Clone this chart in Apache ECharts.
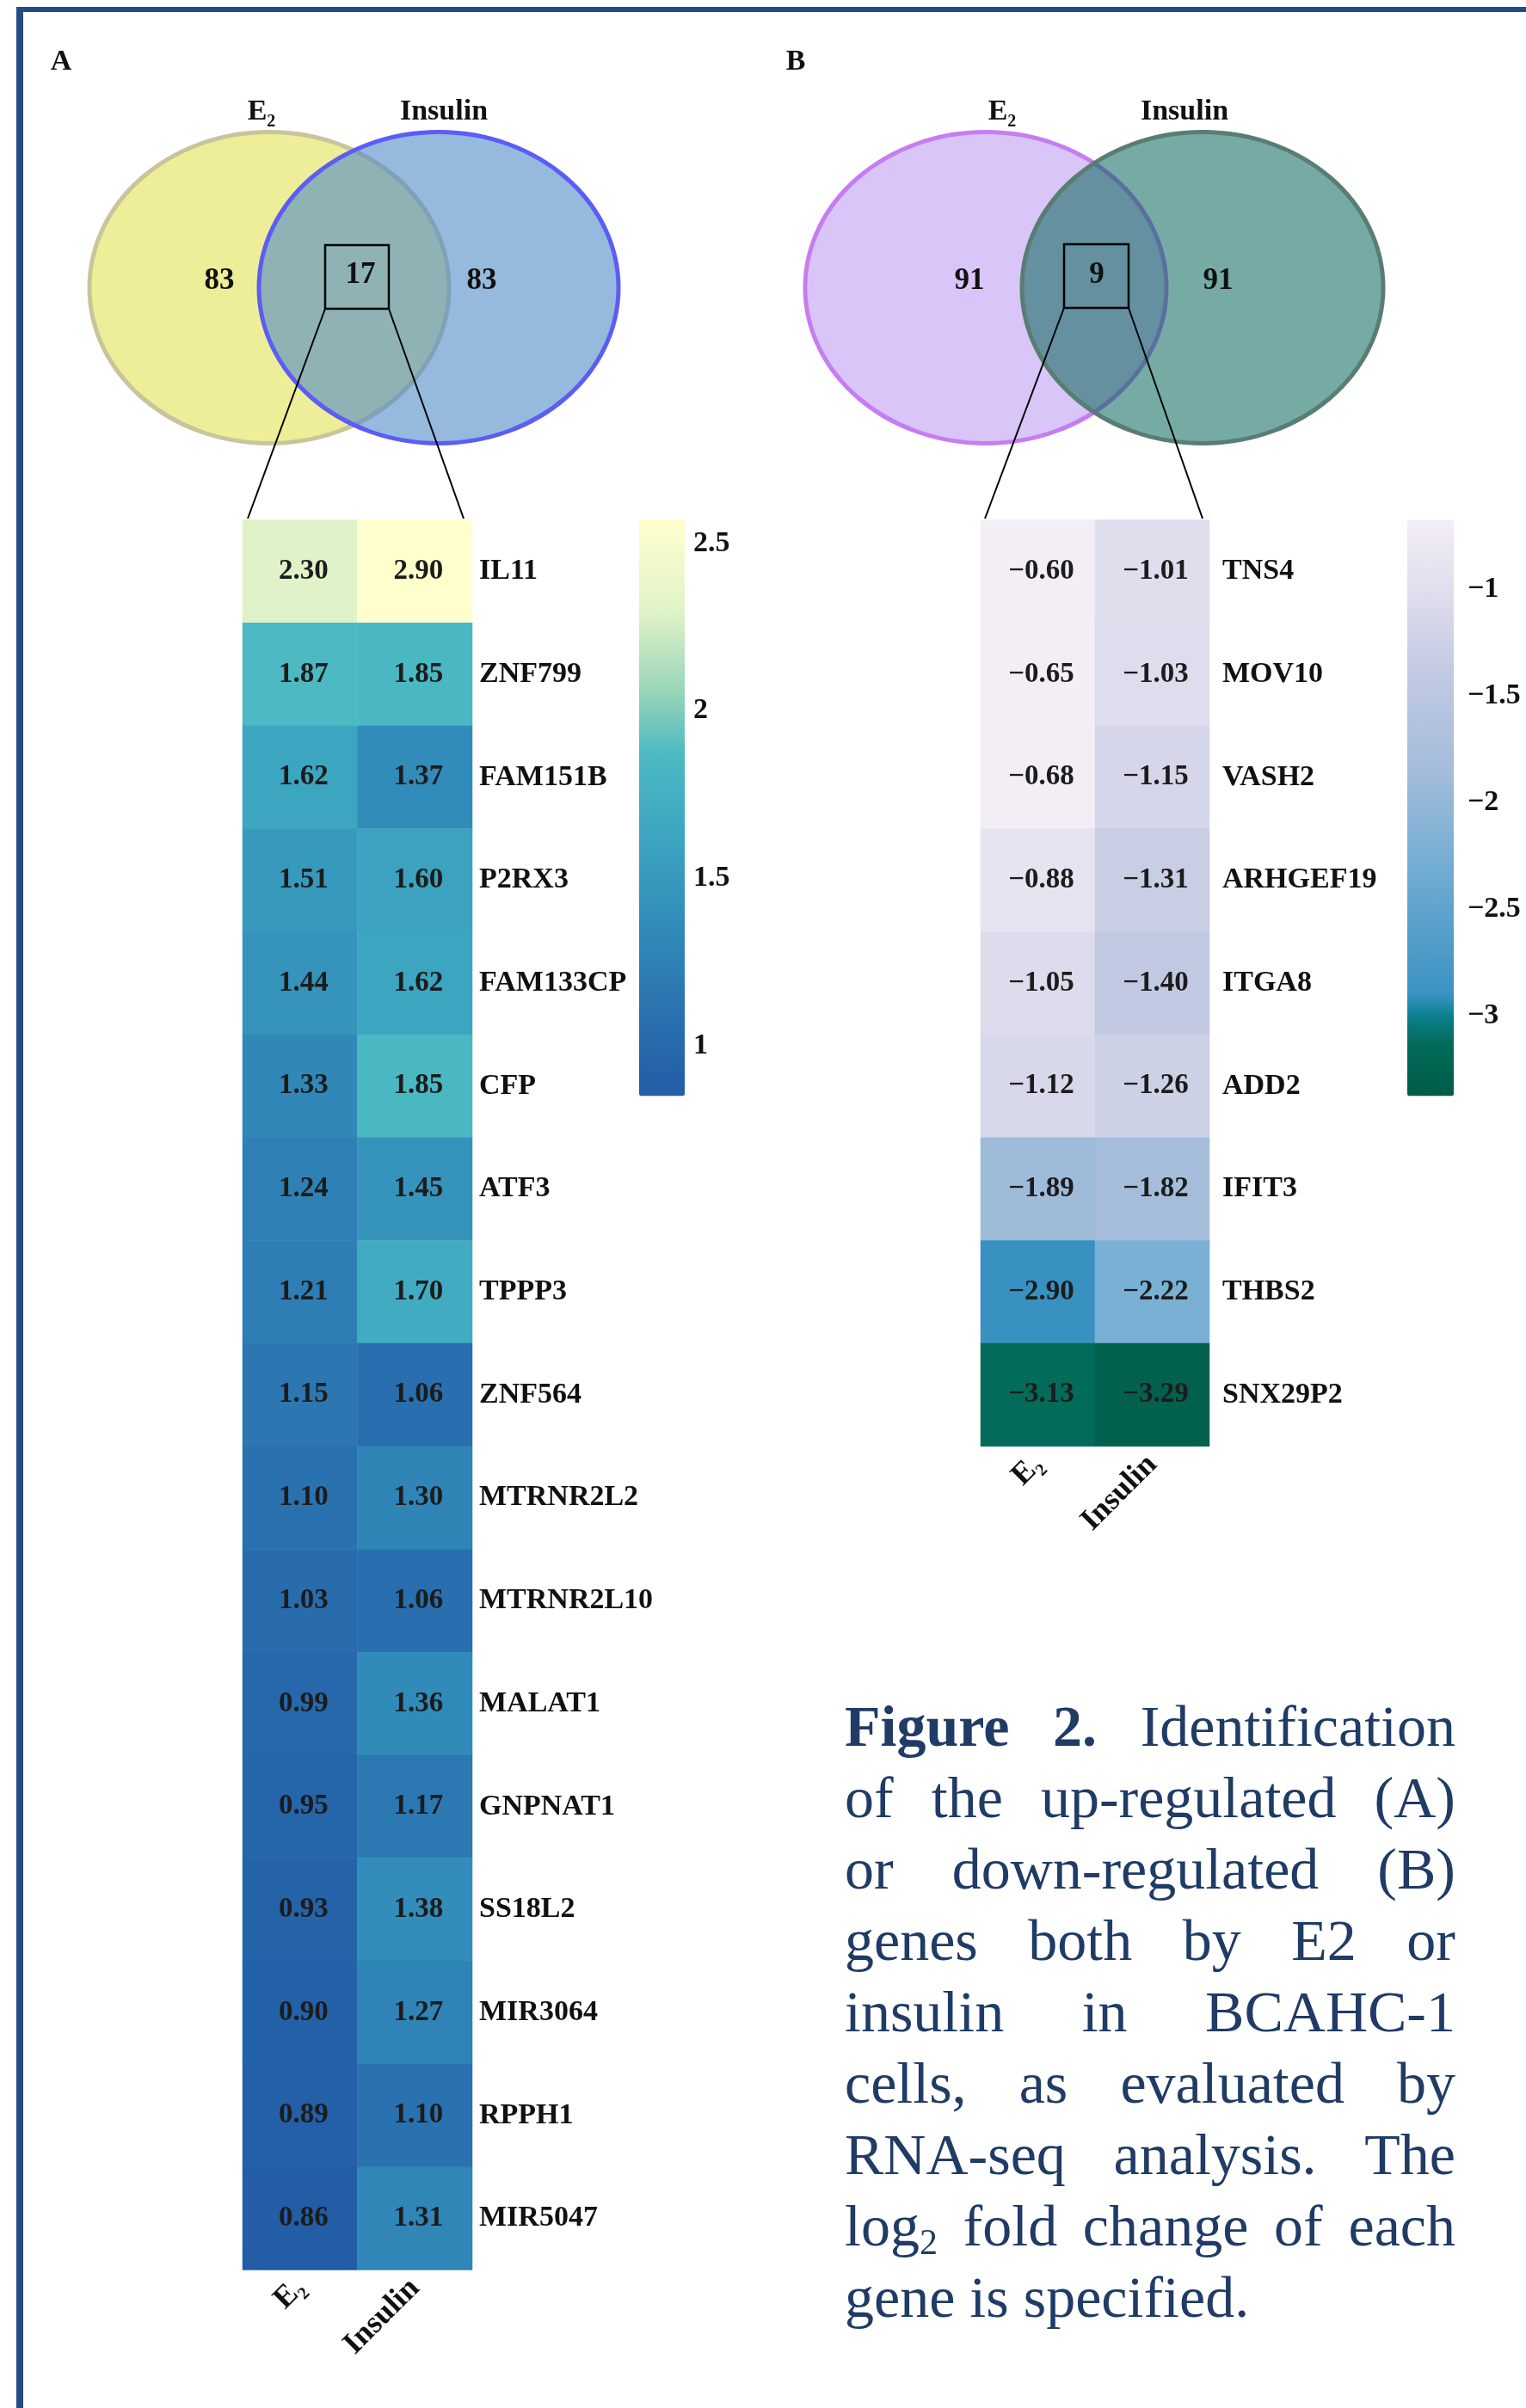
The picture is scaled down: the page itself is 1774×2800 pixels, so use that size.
<!DOCTYPE html>
<html>
<head>
<meta charset="utf-8">
<title>Figure 2 – E2 / insulin regulated genes</title>
<script src="https://cdn.jsdelivr.net/npm/echarts@6/dist/echarts.min.js"></script>
<style>
  html, body { margin: 0; padding: 0; background: #ffffff; }
  #chart { width: 1774px; height: 2800px; }
</style>
</head>
<body>
<div id="chart"></div>
<script>
// ---------------- data ----------------
const conditions = ['E2', 'Insulin'];

const upGenes = ['IL11', 'ZNF799', 'FAM151B', 'P2RX3', 'FAM133CP', 'CFP', 'ATF3', 'TPPP3', 'ZNF564',
  'MTRNR2L2', 'MTRNR2L10', 'MALAT1', 'GNPNAT1', 'SS18L2', 'MIR3064', 'RPPH1', 'MIR5047'];
const upE2 = [2.30, 1.87, 1.62, 1.51, 1.44, 1.33, 1.24, 1.21, 1.15, 1.10, 1.03, 0.99, 0.95, 0.93, 0.90, 0.89, 0.86];
const upInsulin = [2.90, 1.85, 1.37, 1.60, 1.62, 1.85, 1.45, 1.70, 1.06, 1.30, 1.06, 1.36, 1.17, 1.38, 1.27, 1.10, 1.31];

const downGenes = ['TNS4', 'MOV10', 'VASH2', 'ARHGEF19', 'ITGA8', 'ADD2', 'IFIT3', 'THBS2', 'SNX29P2'];
const downE2 = [-0.60, -0.65, -0.68, -0.88, -1.05, -1.12, -1.89, -2.90, -3.13];
const downInsulin = [-1.01, -1.03, -1.15, -1.31, -1.40, -1.26, -1.82, -2.22, -3.29];

// Venn counts: [E2 only, shared, insulin only]
const vennUp = [83, 17, 83];
const vennDown = [91, 9, 91];

// colour-bar tick labels
const upTicks = [1, 1.5, 2, 2.5];
const downTicks = [-3, -2.5, -2, -1.5, -1];

const captionLines = [
  '**Figure** **2.** Identification',
  'of the up-regulated (A)',
  'or down-regulated (B)',
  'genes both by E2 or',
  'insulin in BCAHC-1',
  'cells, as evaluated by',
  'RNA-seq analysis. The',
  'log_2 fold change of each',
  'gene is specified.'
];

// ---------------- styling / layout ----------------
const SERIF = '"Liberation Serif", "Times New Roman", Times, serif';
const INK = '#111111';
const NAVY = '#1f3b66';
const ROW_H = 119.7;

// colour ramps (value, colour) for the two fold-change scales
const upScale = { min: 0.85, max: 2.57, over: '#ffffcd', stops: [
  [0.85, '#225ca6'], [1.10, '#2a72af'], [1.37, '#328cba'], [1.62, '#3ca5c0'],
  [1.87, '#4bb9c3'], [2.05, '#96d4b8'], [2.30, '#e1f3c8'], [2.57, '#ffffcd']] };
const downScale = { min: -3.375, max: -0.675, over: '#f3eef6', stops: [
  [-3.375, '#015c49'], [-3.13, '#026a57'], [-3.0, '#0a808e'], [-2.90, '#3a92c3'], [-2.22, '#7ab0d4'],
  [-1.89, '#a0bbda'], [-1.40, '#c1c9e2'], [-1.05, '#dddcec'], [-0.675, '#f3eef6']] };

function hexToRgb(h) { return [1, 3, 5].map(i => parseInt(h.substr(i, 2), 16)); }
function rampFromStops(scale, n) {
  const out = [];
  for (let k = 0; k < n; k++) {
    const v = scale.min + (scale.max - scale.min) * k / (n - 1);
    const s = scale.stops;
    let j = 0;
    while (j < s.length - 2 && v > s[j + 1][0]) j++;
    const a = hexToRgb(s[j][1]), b = hexToRgb(s[j + 1][1]);
    let t = (v - s[j][0]) / (s[j + 1][0] - s[j][0]);
    t = Math.max(0, Math.min(1, t));
    const c = a.map((x, i) => Math.round(x + (b[i] - x) * t));
    out.push('rgb(' + c.join(',') + ')');
  }
  return out;
}

const fmtNum = v => v.toFixed(2).replace('-', '\u2212');
const fmtTick = v => String(v).replace('-', '\u2212');

function heatData(e2, ins) {
  const d = [];
  e2.forEach((v, i) => d.push([0, i, v]));
  ins.forEach((v, i) => d.push([1, i, v]));
  return d;
}

const gridA = { left: 282, top: 604.5, width: 267, height: ROW_H * upGenes.length };
const gridB = { left: 1140, top: 604.5, width: 266, height: ROW_H * downGenes.length };
const barA = { left: 743, top: 604.5, width: 53, height: 670 };
const barB = { left: 1636, top: 604.5, width: 54, height: 670 };

const condRich = {
  e: { fontFamily: SERIF, fontWeight: 'bold', fontSize: 36, color: INK, lineHeight: 44 },
  s: { fontFamily: SERIF, fontWeight: 'bold', fontSize: 20, color: INK, lineHeight: 16, verticalAlign: 'bottom' },
  i: { fontFamily: SERIF, fontWeight: 'bold', fontSize: 36, color: INK }
};
const condLabel = v => v === 'E2' ? '{e|E}{s|2}' : '{i|' + v + '}';

function condAxis(gridIndex) {
  return {
    type: 'category', gridIndex, data: conditions, position: 'bottom',
    axisLine: { show: false }, axisTick: { show: false }, splitLine: { show: false },
    axisLabel: { rotate: 45, margin: 16, formatter: condLabel, rich: condRich, interval: 0 }
  };
}
function geneAxis(gridIndex, genes, margin) {
  return {
    type: 'category', gridIndex, data: genes, inverse: true, position: 'right',
    axisLine: { show: false }, axisTick: { show: false }, splitLine: { show: false },
    axisLabel: { margin, interval: 0, fontFamily: SERIF, fontWeight: 'bold', fontSize: 34, color: INK }
  };
}
function barAxis(gridIndex, scale, ticks, margin) {
  return {
    type: 'value', gridIndex, min: scale.min, max: scale.max, position: 'right',
    axisLine: { show: false }, axisTick: { show: false }, splitLine: { show: false },
    axisLabel: { customValues: ticks, margin, formatter: fmtTick,
      fontFamily: SERIF, fontWeight: 'bold', fontSize: 34, color: INK }
  };
}

// ---------------- Venn diagrams (decoration above each heatmap) ----------------
const vennLayout = {
  A: { e2: [313, 334.5], ins: [510, 334.5], rx: 209, ry: 181,
       e2Fill: '#eeee99', e2Stroke: '#c9c49b', insFill: 'rgba(80,138,200,0.6)', insStroke: '#5c5cf6',
       nums: [[255, 327], [419, 320], [560, 327]], box: [378, 285, 74, 74],
       rays: [[378, 359, 288, 603], [452, 359, 539, 603]],
       e2Label: [304, 130], insLabel: [516, 130], tag: ['A', 71, 72] },
  B: { e2: [1146, 334.5], ins: [1398, 334.5], rx: 210, ry: 181,
       e2Fill: '#d9c5f7', e2Stroke: '#c77df2', insFill: 'rgba(0,100,86,0.54)', insStroke: '#5a7d73',
       nums: [[1127, 327], [1275, 320], [1416, 327]], box: [1237, 284, 75, 74],
       rays: [[1237, 358, 1145, 603], [1312, 358, 1398, 603]],
       e2Label: [1165, 130], insLabel: [1377, 130], tag: ['B', 925, 72] }
};

function boldText(text, x, y, size, align) {
  return { type: 'text', x, y, silent: true,
    style: { text, fontFamily: SERIF, fontWeight: 'bold', fontSize: size, fill: INK,
      align: align || 'center', verticalAlign: 'middle' } };
}

function vennElements(L, counts) {
  const els = [];
  els.push({ type: 'ellipse', silent: true, shape: { cx: L.e2[0], cy: L.e2[1], rx: L.rx, ry: L.ry },
    style: { fill: L.e2Fill, stroke: L.e2Stroke, lineWidth: 5 } });
  els.push({ type: 'ellipse', silent: true, shape: { cx: L.ins[0], cy: L.ins[1], rx: L.rx, ry: L.ry },
    style: { fill: L.insFill, stroke: L.insStroke, lineWidth: 5 } });
  counts.forEach((c, i) => els.push(boldText(String(c), L.nums[i][0], L.nums[i][1], 35)));
  els.push({ type: 'rect', silent: true, shape: { x: L.box[0], y: L.box[1], width: L.box[2], height: L.box[3] },
    style: { fill: 'none', stroke: '#000', lineWidth: 2.5 } });
  L.rays.forEach(r => els.push({ type: 'line', silent: true,
    shape: { x1: r[0], y1: r[1], x2: r[2], y2: r[3] }, style: { stroke: '#000', lineWidth: 2 } }));
  els.push({ type: 'text', silent: true, x: L.e2Label[0], y: L.e2Label[1],
    style: { text: '{e|E}{s|2}', align: 'center', verticalAlign: 'middle',
      rich: { e: { fontFamily: SERIF, fontWeight: 'bold', fontSize: 34, fill: INK, lineHeight: 44 },
              s: { fontFamily: SERIF, fontWeight: 'bold', fontSize: 20, fill: INK, lineHeight: 16, verticalAlign: 'bottom' } } } });
  els.push(boldText(conditions[1], L.insLabel[0], L.insLabel[1], 34));
  els.push(boldText(L.tag[0], L.tag[1], L.tag[2], 34));
  return els;
}

// ---------------- justified caption ----------------
const CAP = { left: 982, right: 1692, top: 2012, lineHeight: 83, size: 68, subSize: 42, subDrop: 17 };

function captionElements() {
  const ctx = document.createElement('canvas').getContext('2d');
  const font = (bold, size) => (bold ? 'bold ' : '') + size + 'px ' + SERIF;
  const els = [];
  captionLines.forEach((line, li) => {
    const words = line.split(' ').map(raw => {
      const w = { bold: false, text: raw, sub: null };
      if (/^\*\*.*\*\*$/.test(raw)) { w.bold = true; w.text = raw.slice(2, -2); }
      const m = w.text.match(/^(.*)_(.+)$/);
      if (m) { w.text = m[1]; w.sub = m[2]; }
      ctx.font = font(w.bold, CAP.size);
      w.mainW = ctx.measureText(w.text).width;
      w.subW = 0;
      if (w.sub) { ctx.font = font(false, CAP.subSize); w.subW = ctx.measureText(w.sub).width; }
      w.width = w.mainW + w.subW;
      return w;
    });
    const total = words.reduce((s, w) => s + w.width, 0);
    const isLast = li === captionLines.length - 1;
    ctx.font = font(false, CAP.size);
    const gap = isLast ? ctx.measureText(' ').width
                       : (CAP.right - CAP.left - total) / (words.length - 1);
    const y = CAP.top + li * CAP.lineHeight;
    let x = CAP.left;
    words.forEach(w => {
      els.push({ type: 'text', silent: true, x, y,
        style: { text: w.text, fontFamily: SERIF, fontWeight: w.bold ? 'bold' : 'normal',
          fontSize: CAP.size, fill: NAVY, align: 'left', verticalAlign: 'middle' } });
      if (w.sub) {
        els.push({ type: 'text', silent: true, x: x + w.mainW, y: y + CAP.subDrop,
          style: { text: w.sub, fontFamily: SERIF, fontSize: CAP.subSize, fill: NAVY,
            align: 'left', verticalAlign: 'middle' } });
      }
      x += w.width + gap;
    });
  });
  return els;
}

// page frame (top and left rules)
const frame = [
  { type: 'line', silent: true, shape: { x1: 19, y1: 11, x2: 1774, y2: 11 }, style: { stroke: '#234d82', lineWidth: 6 } },
  { type: 'line', silent: true, shape: { x1: 23, y1: 8, x2: 23, y2: 2800 }, style: { stroke: '#234d82', lineWidth: 8 } }
];

// ---------------- chart ----------------
const chart = echarts.init(document.getElementById('chart'), null, { renderer: 'canvas' });

const cellLabel = {
  show: true, formatter: p => fmtNum(p.value[2]), offset: [4, 0],
  fontFamily: SERIF, fontWeight: 'bold', fontSize: 33, color: '#1c1c1c'
};

const grids = [gridA, gridB, barA, barB].map(g => Object.assign({ outerBoundsMode: 'none', containLabel: false }, g));

chart.setOption({
  animation: false,
  backgroundColor: '#ffffff',
  grid: grids,
  xAxis: [
    condAxis(0), condAxis(1),
    { type: 'value', gridIndex: 2, show: false, min: 0, max: 1 },
    { type: 'value', gridIndex: 3, show: false, min: 0, max: 1 }
  ],
  yAxis: [
    geneAxis(0, upGenes, 8),
    geneAxis(1, downGenes, 15),
    barAxis(2, upScale, upTicks, 10),
    barAxis(3, downScale, downTicks, 16)
  ],
  visualMap: [
    { type: 'continuous', seriesIndex: 0, min: upScale.min, max: upScale.max,
      inRange: { color: rampFromStops(upScale, 80) }, outOfRange: { color: upScale.over },
      orient: 'vertical', left: barA.left, top: barA.top, itemWidth: barA.width, itemHeight: barA.height,
      padding: 0, calculable: false, hoverLink: false },
    { type: 'continuous', seriesIndex: 1, min: downScale.min, max: downScale.max,
      inRange: { color: rampFromStops(downScale, 80) }, outOfRange: { color: downScale.over },
      orient: 'vertical', left: barB.left, top: barB.top, itemWidth: barB.width, itemHeight: barB.height,
      padding: 0, calculable: false, hoverLink: false }
  ],
  series: [
    { type: 'heatmap', name: 'up', xAxisIndex: 0, yAxisIndex: 0,
      data: heatData(upE2, upInsulin), label: cellLabel, emphasis: { disabled: true },
      itemStyle: { borderWidth: 0 } },
    { type: 'heatmap', name: 'down', xAxisIndex: 1, yAxisIndex: 1,
      data: heatData(downE2, downInsulin), label: cellLabel, emphasis: { disabled: true },
      itemStyle: { borderWidth: 0 } }
  ],
  graphic: {
    elements: [].concat(frame, vennElements(vennLayout.A, vennUp), vennElements(vennLayout.B, vennDown), captionElements())
  }
});
</script>
</body>
</html>
